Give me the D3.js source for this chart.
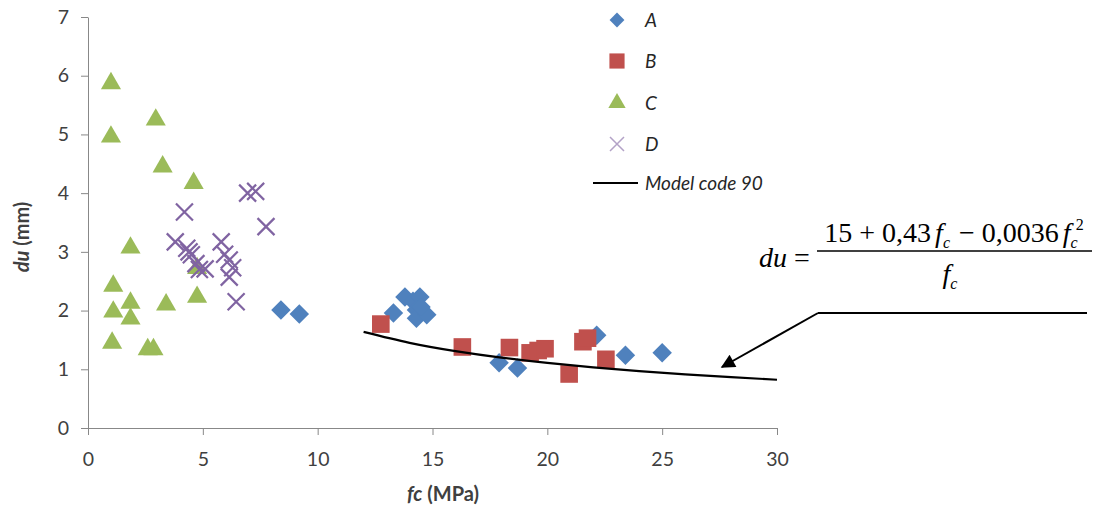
<!doctype html>
<html lang="en">
  <head>
    <meta charset="utf-8">
    <title>du vs fc</title>
    <style>
      * { margin: 0; padding: 0; }
      body { background: #fff; width: 1107px; height: 508px; overflow: hidden; }
      svg { display: block; }
      .tick text { font-family: Lato, "Liberation Sans", sans-serif; font-size: 19.5px; fill: #404040; }
      .axis path, .axis line { stroke: #888; }
    </style>
    <script src="https://cdn.jsdelivr.net/npm/d3@7/dist/d3.min.js"></script>
  </head>
  <body>
    <svg id="chart" width="1107" height="508"></svg>

    <script>
      // series values, [fc (MPa), du (mm)]
      const seriesA = [
        [8.4, 2.01], [9.2, 1.94], [13.3, 1.96], [13.8, 2.23], [14.15, 2.16],
        [14.45, 2.23], [14.3, 2.01], [14.3, 1.87], [14.75, 1.93], [14.5, 2.06],
        [17.9, 1.11], [18.7, 1.02], [22.15, 1.58], [23.4, 1.24], [25.0, 1.28]
      ];
      const seriesB = [
        [12.75, 1.77], [16.3, 1.38], [18.35, 1.37], [19.25, 1.28], [19.6, 1.32],
        [19.9, 1.35], [20.95, 0.92], [21.55, 1.47], [21.75, 1.53], [22.55, 1.17]
      ];
      const seriesC = [
        [1.0, 5.87], [2.95, 5.25], [1.0, 4.96], [3.25, 4.45], [4.6, 4.17],
        [1.85, 3.07], [4.75, 2.72], [1.1, 2.42], [1.85, 2.13], [3.4, 2.1],
        [4.75, 2.23], [1.1, 1.98], [1.85, 1.86], [1.05, 1.45], [2.6, 1.34], [2.85, 1.34]
      ];
      const seriesD = [
        [6.95, 4.0], [7.3, 4.03], [4.2, 3.68], [7.75, 3.43], [3.8, 3.17],
        [4.3, 3.06], [4.4, 3.0], [4.5, 2.95], [4.7, 2.8], [5.8, 3.17],
        [5.1, 2.71], [4.85, 2.7], [5.95, 2.96], [6.15, 2.86], [6.3, 2.73],
        [6.15, 2.57], [6.45, 2.15]
      ];
      // Model code 90 curve
      const modelFc = [12, 14, 16, 18, 20, 22, 24, 26, 28, 30];
      const modelDu = [1.637, 1.451, 1.31, 1.199, 1.108, 1.033, 0.969, 0.913, 0.865, 0.822];

      const xTicks = [0, 5, 10, 15, 20, 25, 30];
      const yTicks = [0, 1, 2, 3, 4, 5, 6, 7];
      const legendNames = ["A", "B", "C", "D", "Model code 90"];

      const colA = "#4f81bd", colB = "#c0504d", colC = "#9bbb59", colD = "#8064a2";

      const svg = d3.select("#chart");
      const x = d3.scaleLinear().domain([0, 30]).range([88, 777]);
      const y = d3.scaleLinear().domain([0, 7]).range([428, 17]);

      // axes
      svg.append("g")
        .attr("class", "axis")
        .attr("transform", "translate(88,0)")
        .call(d3.axisLeft(y).tickValues(yTicks).tickFormat(d3.format("d"))
          .tickSize(7).tickPadding(12).tickSizeOuter(0));
      svg.append("g")
        .attr("class", "axis")
        .attr("transform", "translate(0,428)")
        .call(d3.axisBottom(x).tickValues(xTicks).tickFormat(d3.format("d"))
          .tickSize(7).tickPadding(17).tickSizeOuter(0));

      // axis titles
      svg.append("text")
        .attr("transform", "translate(29,237) rotate(-90)")
        .attr("text-anchor", "middle")
        .style("font-family", "Lato, 'Liberation Sans', sans-serif")
        .style("font-size", "20px").style("font-weight", "bold").attr("fill", "#404040")
        .call(t => {
          t.append("tspan").style("font-style", "italic").text("du");
          t.append("tspan").text(" (mm)");
        });
      svg.append("text")
        .attr("x", 443).attr("y", 501)
        .attr("text-anchor", "middle")
        .style("font-family", "Lato, 'Liberation Sans', sans-serif")
        .style("font-size", "20px").style("font-weight", "bold").attr("fill", "#404040")
        .call(t => {
          t.append("tspan").style("font-style", "italic").text("fc");
          t.append("tspan").text(" (MPa)");
        });

      // marker shapes
      const diamond = d3.symbol().type(d3.symbolSquare).size(190);
      const square = d3.symbol().type(d3.symbolSquare).size(310);
      const triangle = d3.symbol().type(d3.symbolTriangle).size(175);
      const cross = h => `M${-h},${-h}L${h},${h}M${-h},${h}L${h},${-h}`;

      const plot = svg.append("g");

      plot.selectAll(".a").data(seriesA).enter().append("path")
        .attr("d", diamond)
        .attr("transform", d => `translate(${x(d[0])},${y(d[1])}) rotate(45)`)
        .attr("fill", colA);

      plot.selectAll(".b").data(seriesB).enter().append("path")
        .attr("d", square)
        .attr("transform", d => `translate(${x(d[0])},${y(d[1])})`)
        .attr("fill", colB);

      plot.selectAll(".c").data(seriesC).enter().append("path")
        .attr("d", triangle)
        .attr("transform", d => `translate(${x(d[0])},${y(d[1])})`)
        .attr("fill", colC);

      plot.selectAll(".d").data(seriesD).enter().append("path")
        .attr("d", cross(8.5))
        .attr("transform", d => `translate(${x(d[0])},${y(d[1])})`)
        .attr("fill", "none").attr("stroke", colD).attr("stroke-width", 2.2);

      const modelLine = d3.line()
        .x((d, i) => x(modelFc[i]))
        .y(d => y(d))
        .curve(d3.curveNatural);
      plot.append("path")
        .attr("d", modelLine(modelDu))
        .attr("fill", "none").attr("stroke", "#000").attr("stroke-width", 2.2);

      // legend
      const legend = svg.append("g")
        .style("font-family", "Lato, 'Liberation Sans', sans-serif")
        .style("font-size", "19px").style("font-style", "italic");
      const legY = [20, 61, 103, 144, 183];
      legend.append("path").attr("d", d3.symbol().type(d3.symbolSquare).size(110))
        .attr("transform", `translate(617,${legY[0]}) rotate(45)`).attr("fill", colA);
      legend.append("path").attr("d", d3.symbol().type(d3.symbolSquare).size(230))
        .attr("transform", `translate(617,${legY[1]})`).attr("fill", colB);
      legend.append("path").attr("d", d3.symbol().type(d3.symbolTriangle).size(130))
        .attr("transform", `translate(617,${legY[2]})`).attr("fill", colC);
      legend.append("path").attr("d", cross(7))
        .attr("transform", `translate(617,${legY[3]})`)
        .attr("fill", "none").attr("stroke", "#b3a2c7").attr("stroke-width", 1.5);
      legend.append("line")
        .attr("x1", 593).attr("x2", 638).attr("y1", legY[4]).attr("y2", legY[4])
        .attr("stroke", "#000").attr("stroke-width", 2);
      legend.selectAll("text").data(legendNames).enter().append("text")
        .attr("x", 645).attr("y", (d, i) => legY[i])
        .attr("dy", "0.36em").attr("fill", "#262626")
        .text(d => d);

      // formula annotation
      const eq = svg.append("g")
        .style("font-family", "'Liberation Serif', 'DejaVu Serif', serif")
        .style("font-size", "28px")
        .attr("fill", "#000");

      const lhs = eq.append("text").attr("x", 759).attr("y", 267);
      lhs.append("tspan").style("font-style", "italic").text("du");
      lhs.append("tspan").text(" =");

      const num = eq.append("text").attr("x", 954).attr("y", 242).attr("text-anchor", "middle");
      num.append("tspan").text("15 + 0,43");
      num.append("tspan").attr("dx", 4).style("font-style", "italic").text("f");
      num.append("tspan").attr("dy", 6).style("font-size", "16px").style("font-style", "italic").text("c");
      num.append("tspan").attr("dy", -6).attr("dx", 9).text("\u2212 0,0036");
      num.append("tspan").attr("dx", 4).style("font-style", "italic").text("f");
      num.append("tspan").attr("dy", 6).style("font-size", "16px").style("font-style", "italic").text("c");
      num.append("tspan").attr("dy", -18).attr("dx", -2).style("font-size", "16px").text("2");

      const den = eq.append("text").attr("x", 950).attr("y", 283).attr("text-anchor", "middle");
      den.append("tspan").style("font-style", "italic").text("f");
      den.append("tspan").attr("dy", 6).style("font-size", "16px").style("font-style", "italic").text("c");

      eq.append("line")
        .attr("x1", 817).attr("x2", 1092).attr("y1", 251).attr("y2", 251)
        .attr("stroke", "#000").attr("stroke-width", 1.3);

      svg.append("defs").append("marker")
        .attr("id", "head")
        .attr("viewBox", "0 0 10 10")
        .attr("refX", 9).attr("refY", 5)
        .attr("markerWidth", 8).attr("markerHeight", 7)
        .attr("markerUnits", "strokeWidth")
        .attr("orient", "auto")
        .append("path").attr("d", "M0,0L10,5L0,10Z").attr("fill", "#000");
      svg.append("line")
        .attr("x1", 818).attr("y1", 313).attr("x2", 1087).attr("y2", 313)
        .attr("stroke", "#000").attr("stroke-width", 2);
      svg.append("line")
        .attr("x1", 818).attr("y1", 313).attr("x2", 722).attr("y2", 367)
        .attr("stroke", "#000").attr("stroke-width", 2)
        .attr("marker-end", "url(#head)");
    </script>
  </body>
</html>
